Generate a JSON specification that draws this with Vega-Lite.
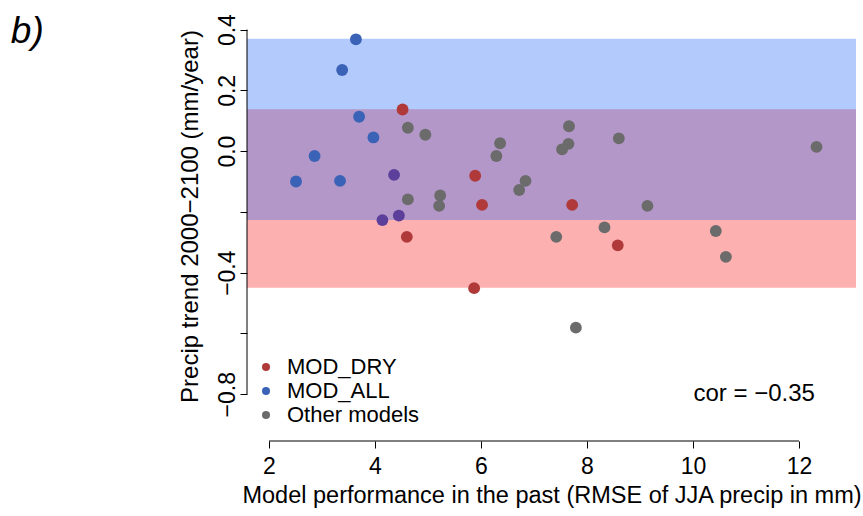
{
  "$schema": "https://vega.github.io/schema/vega-lite/v6.json",
  "width": 609,
  "height": 426,
  "autosize": {"type": "none"},
  "padding": {"left": 247, "top": 15, "right": 7, "bottom": 75},
  "background": "white",
  "config": {
    "view": {"stroke": null},
    "font": "Liberation Sans",
    "axis": {"grid": false, "labelColor": "black", "titleColor": "black", "tickColor": "black", "tickWidth": 1, "labelFont": "Liberation Sans", "titleFont": "Liberation Sans", "titleFontWeight": "normal"}
  },
  "layer": [
    {
      "data": {"values": [
        {"group": "MOD_DRY", "lo": -0.45, "hi": 0.138},
        {"group": "MOD_ALL", "lo": -0.227, "hi": 0.37}
      ]},
      "mark": {"type": "rect", "opacity": 0.35},
      "encoding": {
        "y": {"field": "lo", "type": "quantitative",
              "scale": {"domain": [-0.954, 0.448], "nice": false, "zero": false},
              "axis": {"domain": false, "values": [-0.8, -0.6, -0.4, -0.2, 0, 0.2, 0.4], "tickSize": 7,
                       "labelAngle": -90, "labelAlign": "center", "labelBaseline": "bottom", "labelPadding": 1,
                       "labelFontSize": 23, "titleFontSize": 24, "titlePadding": 14, "titleY": 201,
                       "labelExpr": "abs(datum.value + 0.2) < 1e-6 || abs(datum.value + 0.6) < 1e-6 ? '' : format(datum.value, '.1f')",
                       "title": "Precip trend 2000−2100 (mm/year)"}},
        "y2": {"field": "hi"},
        "fill": {"field": "group", "type": "nominal", "scale": {"domain": ["MOD_DRY", "MOD_ALL"], "range": ["#f91d1d", "#266af6"]}, "legend": null}
      }
    },
    {
      "data": {"values": [{}]},
      "mark": {"type": "rule", "color": "black", "strokeWidth": 1, "clip": false},
      "encoding": {"x": {"datum": 1.585}, "y": {"datum": -0.8}, "y2": {"datum": 0.4}}
    },
    {
      "data": {"values": [{}]},
      "mark": {"type": "rule", "color": "black", "strokeWidth": 1, "clip": false},
      "encoding": {"x": {"datum": 2}, "x2": {"datum": 12}, "y": {"datum": -0.954}}
    },
    {
      "data": {"values": [
        {"rmse": 4.62, "trend": 0.077, "group": "Other models"},
        {"rmse": 4.95, "trend": 0.054, "group": "Other models"},
        {"rmse": 4.62, "trend": -0.159, "group": "Other models"},
        {"rmse": 5.23, "trend": -0.146, "group": "Other models"},
        {"rmse": 5.21, "trend": -0.18, "group": "Other models"},
        {"rmse": 6.36, "trend": 0.026, "group": "Other models"},
        {"rmse": 6.29, "trend": -0.016, "group": "Other models"},
        {"rmse": 6.84, "trend": -0.098, "group": "Other models"},
        {"rmse": 6.72, "trend": -0.128, "group": "Other models"},
        {"rmse": 7.42, "trend": -0.282, "group": "Other models"},
        {"rmse": 7.66, "trend": 0.082, "group": "Other models"},
        {"rmse": 7.65, "trend": 0.024, "group": "Other models"},
        {"rmse": 7.53, "trend": 0.006, "group": "Other models"},
        {"rmse": 8.6, "trend": 0.042, "group": "Other models"},
        {"rmse": 12.33, "trend": 0.014, "group": "Other models"},
        {"rmse": 9.14, "trend": -0.18, "group": "Other models"},
        {"rmse": 8.33, "trend": -0.251, "group": "Other models"},
        {"rmse": 10.43, "trend": -0.263, "group": "Other models"},
        {"rmse": 10.62, "trend": -0.348, "group": "Other models"},
        {"rmse": 7.79, "trend": -0.581, "group": "Other models"},
        {"rmse": 4.52, "trend": 0.137, "group": "MOD_DRY"},
        {"rmse": 4.6, "trend": -0.282, "group": "MOD_DRY"},
        {"rmse": 5.89, "trend": -0.081, "group": "MOD_DRY"},
        {"rmse": 6.02, "trend": -0.177, "group": "MOD_DRY"},
        {"rmse": 5.87, "trend": -0.451, "group": "MOD_DRY"},
        {"rmse": 7.72, "trend": -0.177, "group": "MOD_DRY"},
        {"rmse": 8.58, "trend": -0.31, "group": "MOD_DRY"},
        {"rmse": 3.64, "trend": 0.368, "group": "MOD_ALL"},
        {"rmse": 3.38, "trend": 0.267, "group": "MOD_ALL"},
        {"rmse": 3.7, "trend": 0.113, "group": "MOD_ALL"},
        {"rmse": 3.97, "trend": 0.045, "group": "MOD_ALL"},
        {"rmse": 2.86, "trend": -0.016, "group": "MOD_ALL"},
        {"rmse": 2.51, "trend": -0.1, "group": "MOD_ALL"},
        {"rmse": 3.34, "trend": -0.098, "group": "MOD_ALL"},
        {"rmse": 4.36, "trend": -0.078, "group": "MOD_DRY & MOD_ALL"},
        {"rmse": 4.14, "trend": -0.227, "group": "MOD_DRY & MOD_ALL"},
        {"rmse": 4.45, "trend": -0.212, "group": "MOD_DRY & MOD_ALL"}
      ]},
      "mark": {"type": "point", "filled": true, "opacity": 1, "size": 140},
      "encoding": {
        "x": {"field": "rmse", "type": "quantitative",
              "scale": {"domain": [1.585, 13.075], "nice": false, "zero": false},
              "axis": {"domain": false, "values": [2, 4, 6, 8, 10, 12], "format": "d", "tickSize": 7,
                       "labelPadding": 7, "labelFontSize": 23, "titleFontSize": 23.5, "titlePadding": 5,
                       "title": "Model performance in the past (RMSE of JJA precip in mm)"}},
        "y": {"field": "trend", "type": "quantitative"},
        "color": {"field": "group", "type": "nominal",
                  "scale": {"domain": ["MOD_DRY", "MOD_ALL", "Other models", "MOD_DRY & MOD_ALL"], "range": ["#b03a3a", "#3a62b6", "#6b6b6b", "#5b3f9b"]},
                  "legend": {"orient": "none", "legendX": 8, "legendY": 341, "title": null,
                             "values": ["MOD_DRY", "MOD_ALL", "Other models"],
                             "labelFontSize": 22, "labelFont": "Liberation Sans", "labelColor": "black",
                             "symbolSize": 64, "symbolType": "circle", "labelOffset": 10, "rowPadding": 2, "padding": 0,
                             "encode": {"symbols": {"update": {"fill": {"signal": "datum.value === 'MOD_DRY' ? '#f23232' : datum.value === 'MOD_ALL' ? '#3c78ff' : '#747474'"}, "stroke": {"value": "transparent"}, "opacity": {"value": 1}}}}}}
      }
    },
    {
      "data": {"values": [{}]},
      "mark": {"type": "text", "align": "right", "baseline": "middle", "fontSize": 24, "font": "Liberation Sans", "color": "black"},
      "encoding": {"x": {"datum": 12.3}, "y": {"datum": -0.8}, "text": {"value": "cor = −0.35"}}
    },
    {
      "data": {"values": [{}]},
      "mark": {"type": "text", "align": "left", "baseline": "alphabetic", "fontSize": 37, "fontStyle": "italic", "font": "Liberation Sans", "color": "black", "clip": false},
      "encoding": {"x": {"datum": -2.87}, "y": {"datum": 0.355}, "text": {"value": "b)"}}
    }
  ]
}
